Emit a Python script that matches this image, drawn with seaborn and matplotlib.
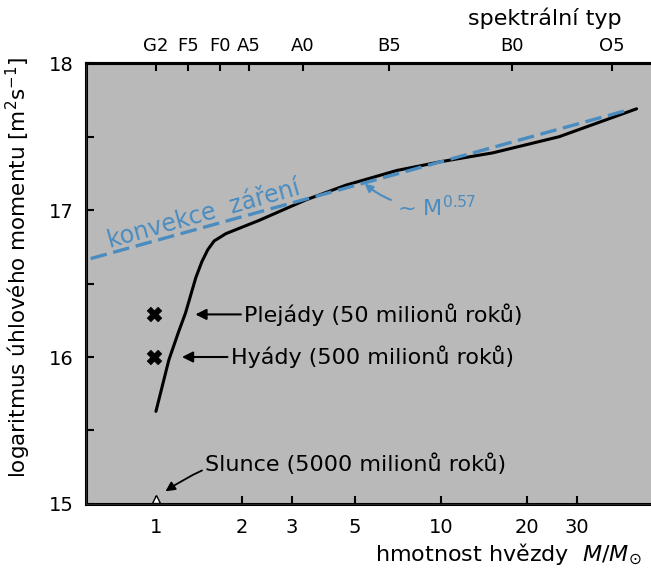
import numpy as np
import pandas as pd
import seaborn as sns
import matplotlib.pyplot as plt
from matplotlib.ticker import FixedLocator, NullLocator

massCurve = [1.0, 1.11, 1.2, 1.27, 1.38, 1.45, 1.52, 1.6, 1.76, 2.3, 3.36, 4.64, 7.0, 10.0, 15.2, 26.0, 48.6]
logJCurve = [15.63, 15.98, 16.17, 16.30, 16.54, 16.65, 16.73, 16.79, 16.84, 16.93, 17.07, 17.17, 17.27, 17.33, 17.39, 17.50, 17.69]

convMass = [0.59, 45.0]
convLogJ = [16.67, 17.68]

clusterNames = ["Plejády (50 milionů roků)", "Hyády (500 milionů roků)"]
clusterMass = [0.985, 0.985]
clusterLogJ = [16.29, 16.0]
clusterCurveMass = [1.36, 1.22]

sunName = "Slunce (5000 milionů roků)"
sunMass = 1.0
sunLogJ = 15.03

massTicks = [1, 2, 3, 5, 10, 20, 30]
spectralTypes = ["G2", "F5", "F0", "A5", "A0", "B5", "B0", "O5"]
spectralMass = [1.0, 1.295, 1.676, 2.12, 3.28, 6.58, 17.7, 39.8]

blue = "#4a8cc0"

sns.set_style("ticks")
plt.rcParams['font.family'] = ['DejaVu Sans']
plt.rcParams['text.color'] = 'black'
plt.rcParams['xtick.color'] = 'black'
plt.rcParams['ytick.color'] = 'black'

fig = plt.figure(figsize=(6.51, 5.70), dpi=100)
ax = fig.add_axes([0.132, 0.116, 0.868, 0.773])
ax.set_facecolor("#b9b9b9")
ax.set_xscale('log')
ax.set_xlim(0.568, 54.6)
ax.set_ylim(15, 18)

curveDf = pd.DataFrame({"mass": massCurve, "logJ": logJCurve})
sns.lineplot(data=curveDf, x="mass", y="logJ", ax=ax, color="black", linewidth=2.2)

convDf = pd.DataFrame({"mass": convMass, "logJ": convLogJ})
sns.lineplot(data=convDf, x="mass", y="logJ", ax=ax, color=blue, linewidth=2.4,
             linestyle=(0, (5, 2)))

sns.scatterplot(x=clusterMass, y=clusterLogJ, ax=ax, marker="X", s=110,
                color="black", edgecolor="black", linewidth=0.5, zorder=5)
ax.plot([sunMass], [sunLogJ], marker="^", markersize=6, markerfacecolor="white",
        markeredgecolor="black", linestyle="none", zorder=5, clip_on=False)

for name, cm, y in zip(clusterNames, clusterCurveMass, clusterLogJ):
    ax.annotate(name, xy=(cm, y), xytext=(cm * 1.5, y), fontsize=16, va="center", ha="left",
                color="black",
                arrowprops=dict(arrowstyle="-|>", color="black", lw=1.5, shrinkA=0, shrinkB=1,
                                mutation_scale=16))

ax.annotate(sunName, xy=(1.07, 15.08), xytext=(1.49, 15.27), fontsize=16, va="center", ha="left",
            color="black",
            arrowprops=dict(arrowstyle="-|>", color="black", lw=1.3, shrinkA=0, shrinkB=1,
                            mutation_scale=14, connectionstyle="arc3,rad=0.25"))

ax.text(0.69, 16.745, "konvekce  záření", color=blue, fontsize=17, rotation=15.7,
        rotation_mode="anchor", ha="left", va="baseline")
ax.annotate("~ M$^{0.57}$", xy=(5.4, 17.18), xytext=(7.0, 17.02), color=blue, fontsize=16,
            va="center", ha="left",
            arrowprops=dict(arrowstyle="-|>", color=blue, lw=1.5, shrinkA=2, shrinkB=0,
                            mutation_scale=12, connectionstyle="arc3,rad=-0.2"))

ax.xaxis.set_major_locator(FixedLocator(massTicks))
ax.xaxis.set_minor_locator(NullLocator())
ax.set_xticklabels([str(m) for m in massTicks])
ax.set_yticks([15, 16, 17, 18])
ax.set_yticks([15.5, 16.5, 17.5], minor=True)
ax.tick_params(axis="both", which="both", direction="in", length=6, width=1.5,
               labelsize=14, colors="black")
ax.tick_params(axis="x", pad=10)
ax.tick_params(axis="y", pad=9)
ax.set_xlabel("")
ax.set_ylabel("")
for side in ["left", "bottom", "top"]:
    ax.spines[side].set_linewidth(2.2)
    ax.spines[side].set_color("black")
ax.spines["right"].set_visible(False)

top = ax.twiny()
top.set_xscale('log')
top.set_xlim(ax.get_xlim())
top.xaxis.set_major_locator(FixedLocator(spectralMass))
top.xaxis.set_minor_locator(NullLocator())
top.set_xticklabels(spectralTypes)
top.tick_params(axis="x", direction="in", length=6, width=1.5, labelsize=13, pad=6,
                colors="black")
top.spines["right"].set_visible(False)
top.spines["top"].set_linewidth(2.2)
top.spines["top"].set_color("black")

fig.text(0.955, 0.968, "spektrální typ", fontsize=16, ha="right", va="center", color="black")
fig.text(0.985, 0.028, "hmotnost hvězdy  $M/M_{\\odot}$", fontsize=16, ha="right", va="center",
         color="black")
fig.text(0.028, 0.53, "logaritmus úhlového momentu [m$^2$s$^{-1}$]", fontsize=15.5,
         rotation=90, ha="center", va="center", color="black")

fig.savefig("out.png", dpi=100)
